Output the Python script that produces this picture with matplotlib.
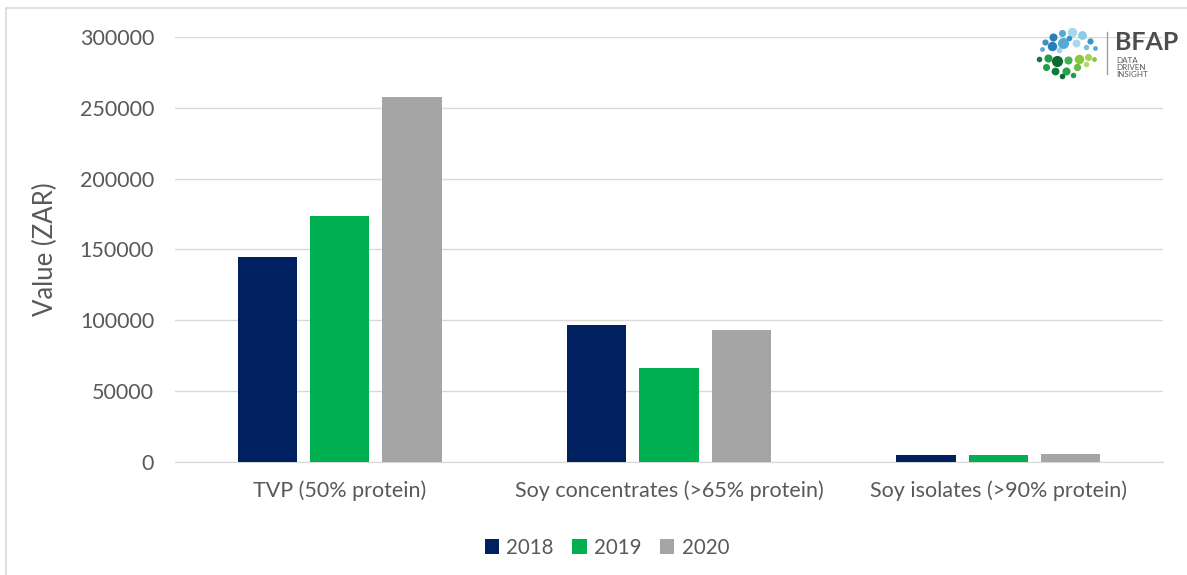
import matplotlib
matplotlib.use('Agg')
import matplotlib.pyplot as plt
from matplotlib.patches import Rectangle
import numpy as np

plt.rcParams['font.family'] = ['Lato', 'DejaVu Sans']

categories = ['TVP (50% protein)', 'Soy concentrates (>65% protein)',
              'Soy isolates (>90% protein)']
years = ['2018', '2019', '2020']
values_2018 = [145000, 97000, 4900]
values_2019 = [173500, 66500, 4600]
values_2020 = [257600, 93000, 6000]
colors = ['#002060', '#00b050', '#a5a5a5']

yticks = [0, 50000, 100000, 150000, 200000, 250000, 300000]

fig = plt.figure(figsize=(11.87, 5.75), dpi=100)
ax = fig.add_axes([175 / 1187, 1 - 462 / 575, 988 / 1187, 425 / 575])

# outer frame of the chart area
fig.patches.append(Rectangle((6 / 1187, -0.05), 1.1, 1 - 8 / 575 + 0.05,
                             transform=fig.transFigure, fill=False,
                             edgecolor='#d9d9d9', linewidth=1.2))

x = np.arange(len(categories))
width = 0.18
step = 0.22
for i, (vals, yr) in enumerate(zip([values_2018, values_2019, values_2020], years)):
    ax.bar(x + (i - 1) * step, vals, width, color=colors[i], label=yr, zorder=3)

ax.set_xlim(-0.5, 2.5)
ax.set_ylim(0, 300000)
ax.set_yticks(yticks)
ax.set_yticklabels([str(v) for v in yticks], fontsize=15.5, color='#595959')
ax.set_xticks(x)
ax.set_xticklabels(categories, fontsize=15.5, color='#595959')
ax.tick_params(axis='both', length=0)
ax.tick_params(axis='y', pad=15)
ax.tick_params(axis='x', pad=13)
ax.grid(axis='y', color='#d9d9d9', linewidth=1, zorder=0)
for s in ['top', 'right', 'left']:
    ax.spines[s].set_visible(False)
ax.spines['bottom'].set_color('#d9d9d9')
ax.set_ylabel('Value (ZAR)', fontsize=18.5, color='#595959', labelpad=16)

ax.legend(loc='upper center', bbox_to_anchor=((607 - 175) / 988, -0.135),
          ncol=3, frameon=False, fontsize=14.8, labelcolor='#595959',
          handlelength=0.7, handleheight=0.7, handletextpad=0.35, columnspacing=0.9)

# logo: bubble cluster with wordmark
lx = fig.add_axes([1035 / 1187, 1 - 88 / 575, 140 / 1187, 60 / 575])
lx.set_xlim(0, 140)
lx.set_ylim(60, 0)
lx.axis('off')
blue_dots = [(10, 14, 20, '#3a93c8'), (18, 9, 34, '#2a7fba'), (27, 5, 26, '#56a9d4'),
             (37, 4, 46, '#a8d8ea'), (47, 7, 40, '#8ccbe6'), (55, 13, 20, '#3a93c8'),
             (17, 18, 46, '#2a7fba'), (28, 15, 64, '#56a9d4'), (41, 15, 32, '#a8d8ea'),
             (7, 21, 12, '#56a9d4'), (51, 19, 16, '#7ec0e0'), (34, 10, 16, '#3a93c8'),
             (24, 22, 16, '#9fd0e8'), (60, 20, 12, '#56a9d4')]
green_dots = [(4, 31, 16, '#0b7a3a'), (13, 30, 34, '#1e9e4a'), (22, 33, 64, '#0d6b30'),
              (33, 32, 34, '#3fb34f'), (44, 31, 46, '#8cc63f'), (53, 29, 26, '#a6d05a'),
              (11, 39, 26, '#1e9e4a'), (20, 43, 32, '#0b7a3a'), (31, 43, 34, '#2aa14a'),
              (42, 39, 28, '#6dbb45'), (51, 36, 16, '#b5d86a'), (27, 48, 16, '#0d6b30'),
              (38, 47, 16, '#1e9e4a'), (59, 31, 12, '#8cc63f')]
for dx, dy, s, c in blue_dots + green_dots:
    lx.scatter(dx, dy, s=s, color=c, linewidths=0)
lx.plot([72, 72], [4, 46], color='#a0a0a0', linewidth=1)
lx.text(80, 14, 'BFAP', fontsize=18, fontweight='bold', color='#4d4d4d', va='center')
lx.text(81, 29, 'DATA\nDRIVEN\nINSIGHT', fontsize=5.8, color='#595959', va='top',
        linespacing=1.0)

fig.savefig('out.png', dpi=100)
